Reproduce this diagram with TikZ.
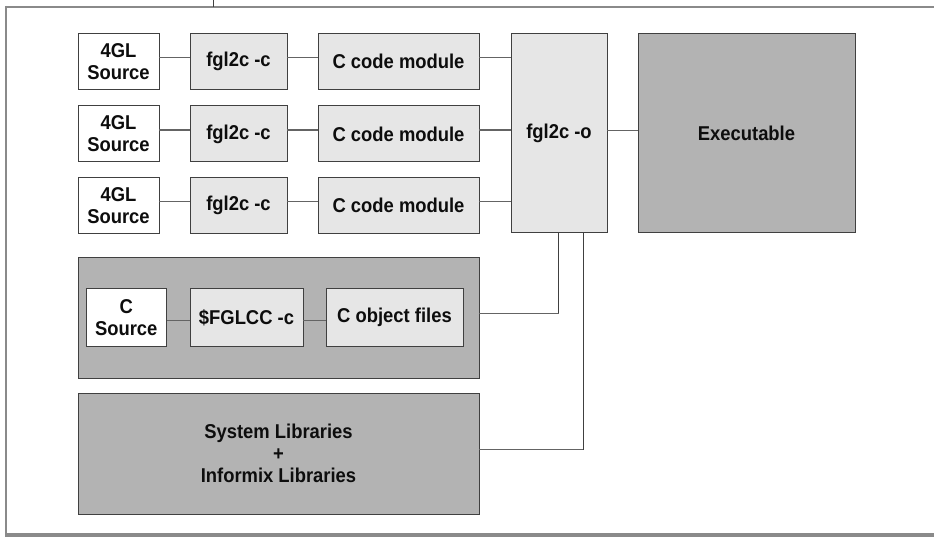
\documentclass[tikz,border=0pt]{standalone}
\usepackage{fontspec}
\newfontfamily\lbl{Liberation Sans}[FakeStretch=0.92, UprightFont={* Bold}]
\definecolor{boxline}{RGB}{64,64,64}
\definecolor{lightfill}{RGB}{230,230,230}
\definecolor{darkfill}{RGB}{179,179,179}
\definecolor{wire}{RGB}{100,100,100}
\definecolor{framegray}{RGB}{138,138,138}
\tikzset{
  base/.style={draw=boxline, line width=1pt, inner sep=0pt, outer sep=0pt,
    align=center, text=black!95, font=\lbl\fontsize{20}{22}\selectfont},
  whitebox/.style={base, fill=white},
  lightbox/.style={base, fill=lightfill},
  darkbox/.style={base, fill=darkfill},
  conn/.style={draw=wire, line width=1.4pt},
  riser/.style={draw=boxline, line width=1pt},
}
\begin{document}
\begin{tikzpicture}[x=1pt, y=-1pt]
\useasboundingbox (0,0) rectangle (934,537);

% page frame
\draw[framegray, line width=2pt] (6,7) -- (934,7);
\draw[framegray, line width=2pt] (6,6) -- (6,537);
\draw[framegray, line width=4pt] (5,535) -- (934,535);
\draw[boxline, line width=1pt] (213,0) -- (213,7);

% 4GL compilation rows
\foreach \r/\y in {1/61.5, 2/134, 3/205.5} {
  \node[whitebox, minimum width=81pt, minimum height=56pt] (s\r) at (118.5,\y) {4GL\\Source};
  \node[lightbox, minimum width=97pt, minimum height=56pt] (f\r) at (238.5,\y) {fgl2c -c};
  \node[lightbox, minimum width=161pt, minimum height=56pt] (m\r) at (398.5,\y) {C code module};
}

% linker and result
\node[lightbox, minimum width=96pt, minimum height=199.5pt] (o) at (559,133.25) {fgl2c -o};
\node[darkbox, minimum width=217pt, minimum height=199.5pt] (exe) at (746.5,133.25) {Executable};

% C sources group
\node[darkbox, minimum width=401pt, minimum height=120.5pt] (cgroup) at (278.5,317.75) {};
\node[whitebox, minimum width=80.5pt, minimum height=57pt] (cs) at (126.25,317.5) {C\\Source};
\node[lightbox, minimum width=113pt, minimum height=57pt] (cc) at (246.5,317.5) {\$FGLCC -c};
\node[lightbox, minimum width=137pt, minimum height=57pt] (co) at (394.5,317.5) {C object files};

% libraries
\node[darkbox, minimum width=401pt, minimum height=121pt] (lib) at (278.5,453.5)
  {System Libraries\\+\\Informix Libraries};

% connectors
\foreach \r in {1,2,3} {
  \draw[conn] ([yshift=4pt]s\r.east) -- ([yshift=4pt]f\r.west);
  \draw[conn] ([yshift=4pt]f\r.east) -- ([yshift=4pt]m\r.west);
  \coordinate (mr\r) at ([yshift=4pt]m\r.east);
  \draw[conn] (mr\r) -- (mr\r -| o.west);
}
\draw[conn] ([yshift=3pt]o.east) -- ([yshift=3pt]exe.west);
\draw[conn] ([yshift=-3pt]cs.east) -- ([yshift=-3pt]cc.west);
\draw[conn] ([yshift=-3pt]cc.east) -- ([yshift=-3pt]co.west);
\coordinate (ob1) at ([xshift=-0.5pt]o.south);
\coordinate (ob2) at ([xshift=24pt]o.south);
\coordinate (cg) at ([yshift=4.5pt]cgroup.east);
\coordinate (lb) at ([yshift=4pt]lib.east);
\draw[conn] (cg) -- (cg -| ob1);
\draw[riser] (cg -| ob1) -- (ob1);
\draw[conn] (lb) -- (lb -| ob2);
\draw[riser] (lb -| ob2) -- (ob2);
\end{tikzpicture}
\end{document}
